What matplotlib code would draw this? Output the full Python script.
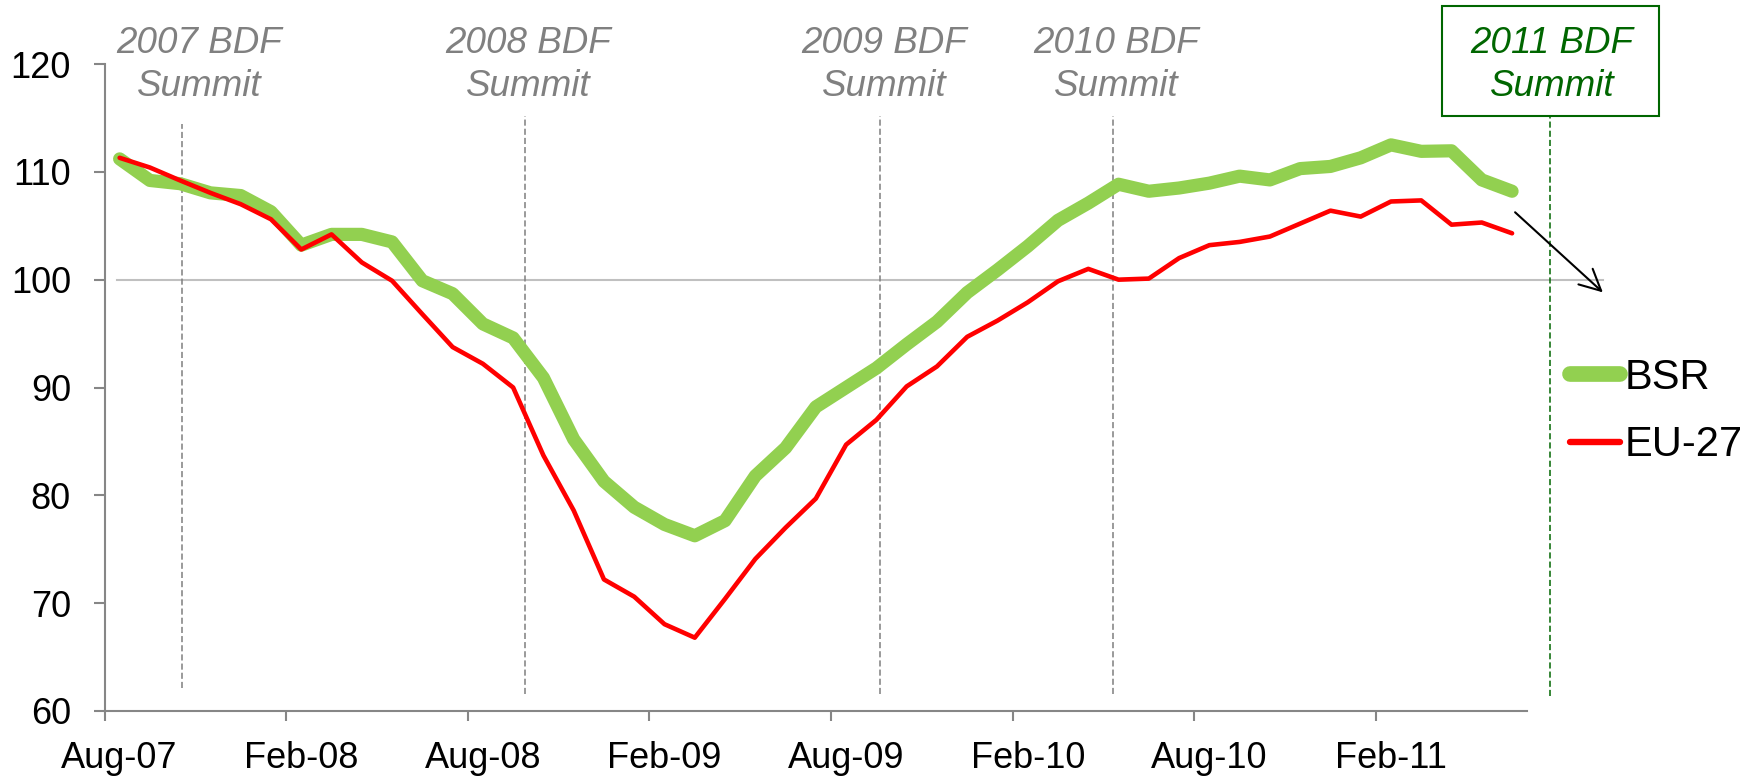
import numpy as np
import matplotlib
matplotlib.use("Agg")
import matplotlib.pyplot as plt
from matplotlib.patches import Rectangle

plt.rcParams['font.family'] = ['Liberation Sans', 'DejaVu Sans']

# monthly index, Aug-07 .. Jun-11 (47 months)
month_labels = ['Aug-07', 'Feb-08', 'Aug-08', 'Feb-09', 'Aug-09', 'Feb-10', 'Aug-10', 'Feb-11']
bsr = [111.2, 109.2, 108.9, 108.05, 107.8, 106.3, 103.2, 104.2, 104.2, 103.5,
       99.9, 98.7, 95.9, 94.6, 90.9, 85.2, 81.3, 78.9, 77.3, 76.25,
       77.65, 81.8, 84.4, 88.2, 90.0, 91.8, 94.0, 96.1, 98.8, 100.9,
       103.1, 105.5, 107.1, 108.85, 108.2, 108.5, 108.95, 109.6, 109.25, 110.3,
       110.5, 111.3, 112.5, 111.9, 111.95, 109.25, 108.2]
eu27 = [111.3, 110.4, 109.2, 108.05, 107.0, 105.6, 102.8, 104.2, 101.6, 99.9,
        96.8, 93.75, 92.2, 90.0, 83.7, 78.6, 72.2, 70.6, 68.05, 66.8,
        70.4, 74.1, 77.0, 79.7, 84.7, 87.0, 90.1, 91.95, 94.7, 96.2,
        97.9, 99.85, 101.0, 100.0, 100.1, 102.0, 103.2, 103.5, 104.0, 105.2,
        106.4, 105.85, 107.25, 107.35, 105.1, 105.3, 104.3]

summit_labels = ['2007 BDF\nSummit', '2008 BDF\nSummit', '2009 BDF\nSummit', '2010 BDF\nSummit']
summit_month = [2.57, 13.9, 25.62, 33.33]
summit_text_month = [3.14, 13.99, 25.75, 33.43]
next_label = '2011 BDF\nSummit'
next_month = 47.75

grey = '#868686'

fig = plt.figure(figsize=(17.61, 7.76), dpi=100)
ax = fig.add_axes([104.5 / 1761, 1 - 711 / 776, (1527.2 - 104.5) / 1761, (711 - 64) / 776])
x = np.arange(len(bsr)) + 0.5

ax.axhline(100, xmin=0.4 / 47, xmax=49.5 / 47, color='#c0c0c0', lw=1.5, clip_on=False, zorder=1)

# past summits
for i, (m, tm, lab) in enumerate(zip(summit_month, summit_text_month, summit_labels)):
    top = 114.4 if i == 0 else 115.15
    bot = 62.1 if i == 0 else 61.6
    ax.plot([m, m], [bot, top], color='#7f7f7f', lw=1.1, ls=(0, (4, 2)), clip_on=False, zorder=2)
    ax.text(tm, 123.55, lab, ha='center', va='top', fontsize=26.5, style='italic',
            color='#808080', linespacing=1.3, clip_on=False)

# upcoming summit
ax.plot([next_month, next_month], [61.4, 115.16], color='#006600', lw=1.1, ls=(0, (4, 2)),
        clip_on=False, zorder=2)
ax.add_patch(Rectangle((44.17, 115.16), 51.34 - 44.17, 125.39 - 115.16, fill=False,
                       ec='#006600', lw=1.5, clip_on=False))
ax.text(47.82, 123.55, next_label, ha='center', va='top', fontsize=26.5, style='italic',
        color='#006600', linespacing=1.3, clip_on=False)

l1, = ax.plot(x, bsr, color='#92D050', lw=9.5, solid_capstyle='round',
              solid_joinstyle='round', label='BSR', zorder=3, clip_on=False)
l2, = ax.plot(x, eu27, color='#FF0000', lw=3.3, solid_capstyle='round',
              solid_joinstyle='round', label='EU-27', zorder=4, clip_on=False)

ax.annotate('', xy=(49.5, 98.82), xytext=(46.6, 106.25), annotation_clip=False,
            arrowprops=dict(arrowstyle='->', color='black', lw=1.5, mutation_scale=38,
                            shrinkA=0, shrinkB=0))

ax.set_xlim(0, 47)
ax.set_ylim(60, 120)
ax.set_yticks(range(60, 121, 10))
ax.set_xticks(np.arange(0, 48, 6))
ax.set_xticklabels([])
ax.set_xticks(np.arange(0, 48, 6) + 0.5, labels=month_labels, minor=True)
ax.tick_params(axis='x', which='major', length=7.2, width=1.5, color=grey)
ax.tick_params(axis='x', which='minor', length=0, pad=21.5, labelsize=26)
ax.tick_params(axis='y', length=7.7, width=1.5, color=grey, pad=16.5, labelsize=26)

for s in ['top', 'right']:
    ax.spines[s].set_visible(False)
for s in ['left', 'bottom']:
    ax.spines[s].set_color(grey)
    ax.spines[s].set_linewidth(1.5)

leg = ax.legend(handles=[l1, l2], loc='center left', bbox_to_anchor=(1570 / 1761, 1 - 411.5 / 776),
                bbox_transform=fig.transFigure, frameon=False, fontsize=30, handlelength=1.2,
                handletextpad=0.12, labelspacing=0.66, borderpad=0, borderaxespad=0)
leg.get_lines()[0].set_linewidth(11.3)
leg.get_lines()[1].set_linewidth(4.6)

fig.savefig('out.png', dpi=100)
